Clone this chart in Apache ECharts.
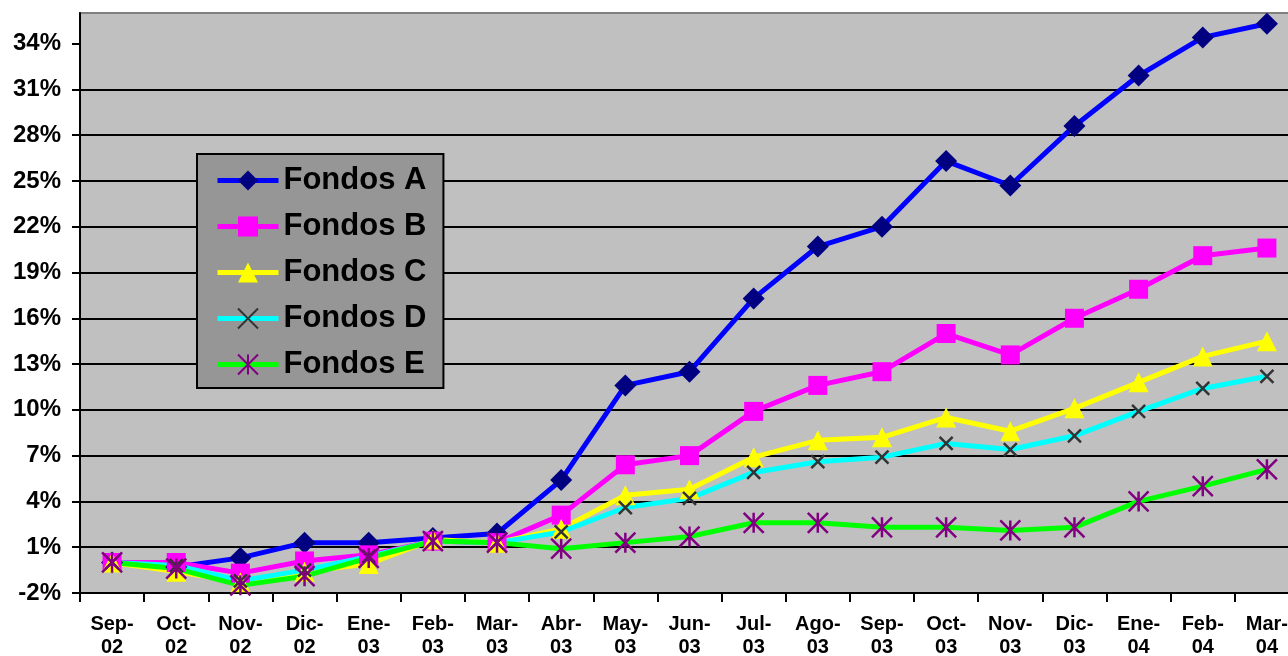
<!DOCTYPE html>
<html>
<head>
<meta charset="utf-8">
<script src="https://cdn.jsdelivr.net/npm/echarts@6/dist/echarts.min.js"></script>
<style>html,body{margin:0;padding:0;background:#fff;}#c{width:1288px;height:656px;}</style>
</head>
<body>
<div id="c"></div>
<script>
const categories = ['Sep-02','Oct-02','Nov-02','Dic-02','Ene-03','Feb-03','Mar-03','Abr-03','May-03','Jun-03','Jul-03','Ago-03','Sep-03','Oct-03','Nov-03','Dic-03','Ene-04','Feb-04','Mar-04'];
const seriesNames = ['Fondos A','Fondos B','Fondos C','Fondos D','Fondos E'];
const fondosA = [0.0,-0.3,0.3,1.3,1.3,1.6,1.9,5.4,11.6,12.5,17.3,20.7,22.0,26.3,24.7,28.6,31.9,34.4,35.3];
const fondosB = [0.0,0.0,-0.7,0.1,0.5,1.4,1.3,3.1,6.4,7.0,9.9,11.6,12.5,15.0,13.6,16.0,17.9,20.1,20.6];
const fondosC = [0.0,-0.6,-1.3,-0.6,-0.1,1.5,1.3,2.2,4.4,4.8,6.9,8.0,8.2,9.5,8.6,10.1,11.8,13.5,14.5];
const fondosD = [0.0,-0.2,-1.2,-0.5,0.4,1.4,1.3,2.0,3.6,4.2,5.9,6.6,6.9,7.8,7.4,8.3,9.9,11.4,12.2];
const fondosE = [0.0,-0.4,-1.5,-0.9,0.3,1.4,1.3,0.9,1.3,1.7,2.6,2.6,2.3,2.3,2.1,2.3,4.0,5.0,6.1];
const yTicks = [-2,1,4,7,10,13,16,19,22,25,28,31,34];

const FONT = '"Liberation Sans", Arial, sans-serif';
const chart = echarts.init(document.getElementById('c'), null, {renderer:'canvas'});

function mk(name, data, lineColor, symbol, size, symColor, border) {
  return {
    name: name, type: 'line', data: data,
    symbol: symbol, symbolSize: size,
    lineStyle: {color: lineColor, width: 5},
    itemStyle: border ? {color: symColor, borderColor: symColor, borderWidth: border} : {color: symColor, borderWidth: 0},
    emphasis: {disabled: true},
    animation: false
  };
}

const option = {
  animation: false,
  grid: {left: 80, top: 13, bottom: 63, right: -11, outerBoundsMode: 'none', containLabel: false,
    show: true, backgroundColor: '#c0c0c0', borderColor: '#808080', borderWidth: 2},
  legend: {
    orient: 'vertical', left: 197, top: 154,
    backgroundColor: '#969696', borderColor: '#000', borderWidth: 2,
    padding: [11, 17, 8, 18],
    itemWidth: 61, itemHeight: 25, itemGap: 15,
    lineStyle: {width: 5},
    textStyle: {fontFamily: FONT, fontWeight: 'bold', fontSize: 31, color: '#000'},
    data: seriesNames
  },
  xAxis: {
    type: 'category', data: categories, boundaryGap: true,
    axisLine: {onZero: false, lineStyle: {color: '#000', width: 2}},
    axisTick: {show: true, length: 9, lineStyle: {color: '#000', width: 2}},
    axisLabel: {
      interval: 0, margin: 20, color: '#000', fontFamily: FONT, fontWeight: 'bold', fontSize: 20, lineHeight: 23,
      hideOverlap: false,
      formatter: function (v) { const p = v.split('-'); return p[0] + '-\n' + p[1]; }
    }
  },
  yAxis: {
    type: 'value', min: -2, max: 36, interval: 3,
    axisLine: {show: true, lineStyle: {color: '#000', width: 2}},
    axisTick: {show: true, length: 8, lineStyle: {color: '#000', width: 2}, customValues: yTicks},
    axisLabel: {margin: 19, color: '#000', fontFamily: FONT, fontWeight: 'bold', fontSize: 24,
      customValues: yTicks, formatter: function (v) { return v + '%'; }},
    splitLine: {show: true, showMaxLine: false, lineStyle: {color: '#000', width: 2}}
  },
  series: [
    mk('Fondos A', fondosA, '#0000ff', 'diamond', 22, '#000080', 0),
    mk('Fondos B', fondosB, '#ff00ff', 'rect', 19, '#ff00ff', 0),
    mk('Fondos C', fondosC, '#ffff00', 'triangle', 20, '#ffff00', 0),
    mk('Fondos D', fondosD, '#00ffff', 'path://M0,0L10,10M10,0L0,10', 13, '#333333', 2.5),
    mk('Fondos E', fondosE, '#00ff00', 'path://M5,0L5,10M0,0L10,10M10,0L0,10', 20, '#800080', 2.5)
  ]
};
chart.setOption(option);
</script>
</body>
</html>
